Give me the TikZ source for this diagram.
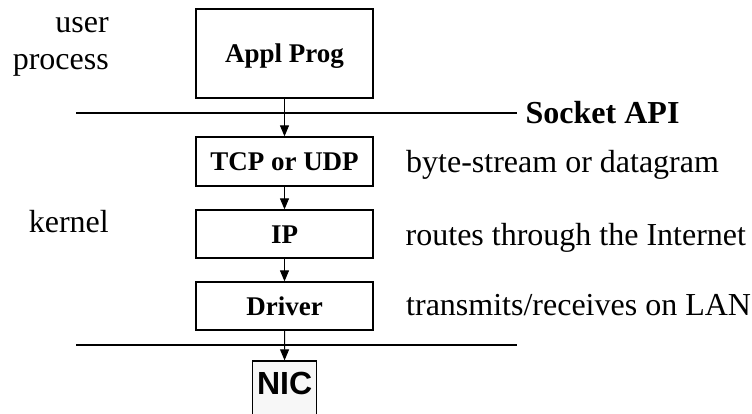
\documentclass[tikz,border=0pt]{standalone}
\usepackage{fontspec}
\setmainfont{Liberation Serif}
\newfontfamily\nicfont{Liberation Sans}
\usetikzlibrary{arrows.meta}
\begin{document}
\begin{tikzpicture}[x=1pt,y=-1pt,
  layer/.style={draw, line width=1.3pt, minimum width=177pt, inner sep=0pt,
    font=\fontsize{27}{32}\selectfont\bfseries, text height=18pt, text depth=0pt},
  note/.style={inner sep=0pt, anchor=base west, font=\fontsize{32}{38}\selectfont},
  side/.style={inner sep=0pt, anchor=base east, font=\fontsize{32}{38}\selectfont},
  boundary/.style={line width=2.2pt},
  flow/.style={line width=1pt, -{Triangle[length=11pt,width=9pt]}}
]
\useasboundingbox (0,0) rectangle (752,414);
\clip (0,0) rectangle (752,414);

% protocol stack
\node[layer, minimum height=89pt] (appl) at (284.5,53.5) {Appl Prog};
\node[layer, minimum height=49pt] (tcp) at (284.5,161.5) {TCP or UDP};
\node[layer, minimum height=48pt] (ip) at (284.5,234) {IP};
\node[layer, minimum height=48pt] (drv) at (284.5,306) {Driver};
\node[draw, line width=1.3pt, fill=gray!6, minimum width=64pt, minimum height=60pt,
  inner sep=0pt, font=\nicfont\fontsize{32}{38}\selectfont\bfseries,
  text height=23pt, text depth=16.4pt] (nic) at (284.6,391) {NIC};

% user/kernel and kernel/hardware boundaries
\coordinate (apiL) at (76,113.3);
\coordinate (apiR) at (517,113.3);
\coordinate (hwL) at (76,345.3);
\coordinate (hwR) at (517,345.3);
\draw[boundary] (apiL) -- (apiR);
\draw[boundary] (hwL) -- (hwR);

% data path down the stack
\draw[flow] (appl) -- (tcp);
\draw[flow] (tcp) -- (ip);
\draw[flow] (ip) -- (drv);
\draw[flow] (drv) -- (nic);

% labels
\node[side] (user) at (109,33) {user};
\node[side] (proc) at (109,70) {process};
\node[side] (kern) at (109,233) {kernel};
\node[note, font=\fontsize{32}{38}\selectfont\bfseries] (api) at (525.5,124) {Socket API};
\node[note] (d1) at (406,173) {byte-stream or datagram};
\node[note] (d2) at (405.5,245) {routes through the Internet};
\node[note] (d3) at (406,315) {transmits/receives on LAN};
\end{tikzpicture}
\end{document}
